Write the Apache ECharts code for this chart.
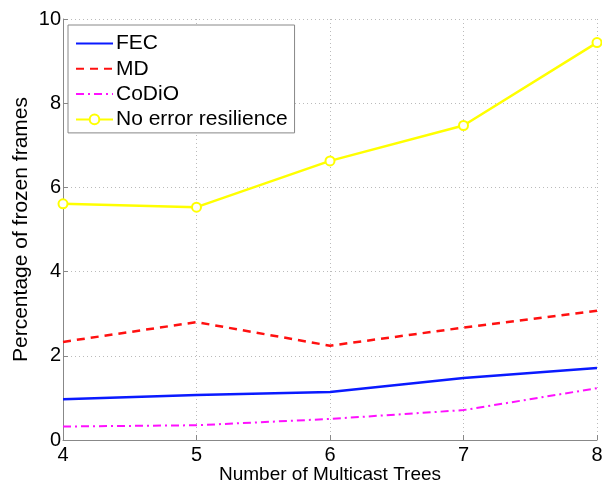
<!DOCTYPE html>
<html>
<head>
<meta charset="utf-8">
<script src="https://cdn.jsdelivr.net/npm/echarts@6/dist/echarts.min.js"></script>
<style>html,body{margin:0;padding:0;background:#fff;}#c{width:602px;height:487px;}</style>
</head>
<body>
<div id="c"></div>
<script>
const xValues = [4, 5, 6, 7, 8];
const fec = [0.97, 1.07, 1.14, 1.47, 1.71];
const md = [2.33, 2.80, 2.24, 2.67, 3.07];
const codio = [0.32, 0.35, 0.50, 0.71, 1.23];
const noResilience = [5.61, 5.53, 6.63, 7.47, 9.44];
const seriesNames = ['FEC', 'MD', 'CoDiO', 'No error resilience'];

const pairs = arr => xValues.map((x, i) => [x, arr[i]]);
const font = 'Liberation Sans, Arial, Helvetica, sans-serif';

const chart = echarts.init(document.getElementById('c'));
chart.setOption({
  animation: false,
  backgroundColor: '#fff',
  grid: { left: 63, right: 5, top: 19, bottom: 47, containLabel: false, outerBoundsMode: 'none' },
  legend: {
    left: 68, top: 25, orient: 'vertical',
    backgroundColor: '#fff',
    borderColor: '#888', borderWidth: 1,
    padding: [8, 7, 3, 7],
    itemWidth: 37, itemHeight: 12, itemGap: 4.3,
    textStyle: { fontFamily: font, fontSize: 21, lineHeight: 21, color: '#000', padding: [0, 0, 0, -2] },
    data: [
      { name: seriesNames[0], itemStyle: { opacity: 0 } },
      { name: seriesNames[1], itemStyle: { opacity: 0 } },
      { name: seriesNames[2], itemStyle: { opacity: 0 } },
      { name: seriesNames[3] }
    ]
  },
  xAxis: {
    type: 'value', min: 4, max: 8, interval: 1,
    name: 'Number of Multicast Trees', nameLocation: 'middle', nameGap: 25, nameMoveOverlap: false,
    nameTextStyle: { fontFamily: font, fontSize: 19, color: '#000' },
    axisLine: { lineStyle: { color: '#888' } },
    axisTick: { inside: true, length: 5, lineStyle: { color: '#888' } },
    axisLabel: { fontFamily: font, fontSize: 20, color: '#000', margin: 5 },
    splitLine: { show: true, lineStyle: { color: '#bbb', type: [1, 3] } }
  },
  yAxis: {
    type: 'value', min: 0, max: 10, interval: 2,
    name: 'Percentage of frozen frames', nameLocation: 'middle', nameGap: 31, nameMoveOverlap: false,
    nameTextStyle: { fontFamily: font, fontSize: 21, color: '#000' },
    axisLine: { show: true, lineStyle: { color: '#888' } },
    axisTick: { show: true, inside: true, length: 5, lineStyle: { color: '#888' } },
    axisLabel: { fontFamily: font, fontSize: 20, color: '#000', margin: 2 },
    splitLine: { show: true, lineStyle: { color: '#bbb', type: [1, 3] } }
  },
  series: [
    { name: seriesNames[0], type: 'line', data: pairs(fec), symbol: 'none',
      itemStyle: { color: '#0a1aff' }, lineStyle: { color: '#0a1aff', width: 2.5 } },
    { name: seriesNames[1], type: 'line', data: pairs(md), symbol: 'none',
      itemStyle: { color: '#ff1010' }, lineStyle: { color: '#ff1010', width: 2.5, type: [8, 6] } },
    { name: seriesNames[2], type: 'line', data: pairs(codio), symbol: 'none',
      itemStyle: { color: '#ff10ff' }, lineStyle: { color: '#ff10ff', width: 2, type: [8, 4, 2, 4] } },
    { name: seriesNames[3], type: 'line', data: pairs(noResilience), symbol: 'emptyCircle', symbolSize: 9,
      itemStyle: { color: '#ffff00', borderColor: '#ffff00', borderWidth: 2 },
      lineStyle: { color: '#ffff00', width: 2.5 } }
  ]
});
</script>
</body>
</html>
